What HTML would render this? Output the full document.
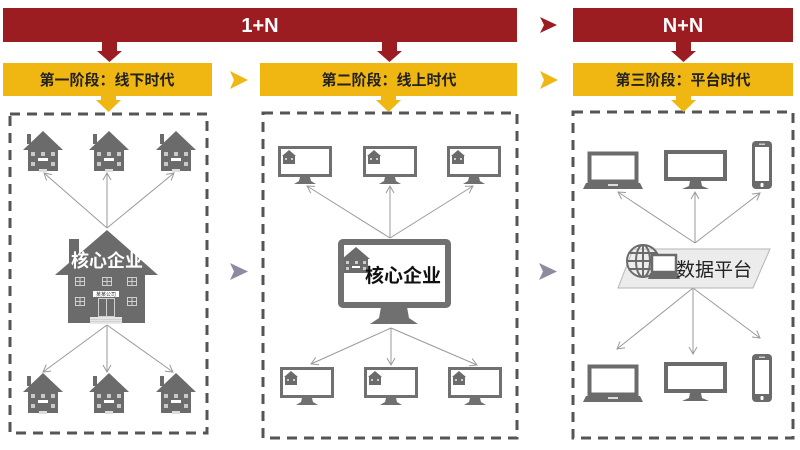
<!DOCTYPE html>
<html><head><meta charset="utf-8"><style>
html,body{margin:0;padding:0;background:#fff;}
svg{display:block;}
text{font-family:"Liberation Sans","Noto Sans CJK SC",sans-serif;}
</style></head><body>
<svg width="800" height="450" viewBox="0 0 800 450" xmlns="http://www.w3.org/2000/svg">
<defs>
  <marker id="ah" markerWidth="10" markerHeight="10" refX="8" refY="5" orient="auto" markerUnits="userSpaceOnUse">
    <polyline points="1,1 8,5 1,9" fill="none" stroke="#9a9a9a" stroke-width="1"/>
  </marker>
  <g id="house">
    <polygon points="20,0 40,19 0,19" fill="#6b6b6b"/>
    <rect x="4" y="3" width="4" height="10" fill="#6b6b6b"/>
    <rect x="5" y="18" width="30" height="22" fill="#6b6b6b"/>
    <g fill="#c9c9c9">
      <rect x="8" y="21" width="4" height="4"/><rect x="18" y="21" width="4" height="4"/><rect x="28" y="21" width="4" height="4"/>
      <rect x="8" y="31" width="4" height="4"/><rect x="28" y="31" width="4" height="4"/>
    </g>
    <rect x="15" y="27" width="10" height="3" fill="#fff"/>
    <rect x="16" y="38" width="8" height="3" fill="#ddd"/>
  </g>
  <g id="minihouse">
    <polygon points="7,0 14,6 0,6" fill="#6b6b6b"/>
    <rect x="1" y="6" width="12" height="8" fill="#6b6b6b"/>
    <rect x="3" y="8" width="2" height="2" fill="#ccc"/><rect x="9" y="8" width="2" height="2" fill="#ccc"/>
  </g>
  <g id="mon">
    <rect x="1.5" y="1.5" width="51" height="28" fill="#fff" stroke="#707070" stroke-width="3"/>
    <polygon points="22,31 32,31 33,35 38,38 16,38 21,35" fill="#707070"/>
    <use href="#minihouse" x="4" y="4"/>
  </g>
  <g id="laptop">
    <rect x="6.5" y="1.5" width="47" height="28" fill="#fff" stroke="#6b6b6b" stroke-width="4"/>
    <polygon points="3,31 57,31 60,37 0,37" fill="#6b6b6b"/>
    <rect x="25" y="32" width="10" height="2" fill="#ddd"/>
  </g>
  <g id="pc">
    <rect x="2" y="2" width="59" height="27" fill="#fff" stroke="#6b6b6b" stroke-width="4"/>
    <polygon points="26,31 37,31 38,36 45,39 18,39 25,36" fill="#6b6b6b"/>
  </g>
  <g id="phone">
    <rect x="0" y="0" width="20" height="48" rx="4" fill="#6b6b6b"/>
    <rect x="3" y="6" width="14" height="34" fill="#fff"/>
    <rect x="7" y="2.5" width="6" height="1.5" fill="#ccc"/>
    <rect x="8.5" y="42" width="3" height="4" rx="1" fill="#fff"/>
  </g>
</defs>

<!-- red top bars -->
<rect x="3" y="8" width="514" height="34" fill="#9b1d22"/>
<text x="260" y="32" font-size="20" font-weight="bold" fill="#fff" text-anchor="middle">1+N</text>
<polygon points="540,17 557,25 540,33 544,25" fill="#9b1d22"/>
<rect x="573" y="8" width="220" height="34" fill="#9b1d22"/>
<text x="683" y="32" font-size="20" font-weight="bold" fill="#fff" text-anchor="middle">N+N</text>

<!-- red down arrows -->
<polygon points="102,42 117,42 117,51 122,51 109.5,62 97,51 102,51" fill="#9b1d22"/>
<polygon points="382,42 397,42 397,51 402,51 389.5,62 377,51 382,51" fill="#9b1d22"/>
<polygon points="676,42 691,42 691,51 696,51 683.5,62 671,51 676,51" fill="#9b1d22"/>

<!-- yellow bars -->
<rect x="3" y="63" width="209" height="33" fill="#f0b612"/>
<text x="107" y="85" font-size="15" font-weight="bold" fill="#222" text-anchor="middle">第一阶段：线下时代</text>
<polygon points="230,71 248,80 230,89 234,80" fill="#f0b612"/>
<rect x="260" y="63" width="257" height="33" fill="#f0b612"/>
<text x="389" y="85" font-size="15" font-weight="bold" fill="#222" text-anchor="middle">第二阶段：线上时代</text>
<polygon points="540,71 558,80 540,89 544,80" fill="#f0b612"/>
<rect x="573" y="63" width="220" height="33" fill="#f0b612"/>
<text x="683" y="85" font-size="15" font-weight="bold" fill="#222" text-anchor="middle">第三阶段：平台时代</text>

<!-- dashed boxes -->
<g fill="none" stroke="#555" stroke-width="3" stroke-dasharray="10,7">
  <rect x="10" y="114" width="197" height="319"/>
  <rect x="263" y="113" width="254" height="325"/>
  <rect x="573" y="112" width="220" height="326"/>
</g>

<!-- yellow down arrows -->
<polygon points="101,96 116,96 116,100 121,100 108.5,112 96,100 101,100" fill="#f0b612"/>
<polygon points="381,96 396,96 396,100 401,100 388.5,112 376,100 381,100" fill="#f0b612"/>
<polygon points="676,96 691,96 691,100 696,100 683.5,112 671,100 676,100" fill="#f0b612"/>

<!-- gray between arrows -->
<polygon points="230,263 248,271.5 230,280 234,271.5" fill="#8c8ca0"/>
<polygon points="539,263 557,271.5 539,280 543,271.5" fill="#8c8ca0"/>

<!-- ===== Box 1 ===== -->
<use href="#house" x="23" y="131"/>
<use href="#house" x="89" y="131"/>
<use href="#house" x="156" y="131"/>
<g stroke="#9a9a9a" stroke-width="1" fill="none" marker-end="url(#ah)">
  <line x1="107" y1="228" x2="44" y2="173"/>
  <line x1="107" y1="228" x2="107" y2="173"/>
  <line x1="107" y1="228" x2="174" y2="173"/>
  <line x1="107" y1="325" x2="43" y2="372"/>
  <line x1="107" y1="325" x2="107" y2="372"/>
  <line x1="107" y1="325" x2="173" y2="372"/>
</g>
<!-- big house -->
<polygon points="107,230 158,275 55,275" fill="#6b6b6b"/>
<rect x="69" y="239" width="10" height="30" fill="#6b6b6b"/>
<rect x="68" y="274" width="77" height="49" fill="#6b6b6b"/>
<g fill="none" stroke="#d0d0d0" stroke-width="1">
  <rect x="75.5" y="277.5" width="9" height="8"/><rect x="102.5" y="277.5" width="9" height="8"/><rect x="127.5" y="277.5" width="9" height="8"/>
  <rect x="75.5" y="297.5" width="9" height="8"/><rect x="127.5" y="297.5" width="9" height="8"/>
  <line x1="80" y1="277" x2="80" y2="286"/><line x1="107" y1="277" x2="107" y2="286"/><line x1="132" y1="277" x2="132" y2="286"/>
  <line x1="75" y1="281.5" x2="85" y2="281.5"/><line x1="102" y1="281.5" x2="112" y2="281.5"/><line x1="127" y1="281.5" x2="137" y2="281.5"/>
  <line x1="80" y1="297" x2="80" y2="306"/><line x1="132" y1="297" x2="132" y2="306"/>
  <line x1="75" y1="301.5" x2="85" y2="301.5"/><line x1="127" y1="301.5" x2="137" y2="301.5"/>
  <rect x="98.5" y="298.5" width="16" height="18"/>
  <line x1="106.5" y1="298" x2="106.5" y2="317"/>
</g>
<rect x="93" y="291" width="26" height="6" fill="#fff"/>
<text x="106" y="296" font-size="5" fill="#444" text-anchor="middle">某某公司</text>
<rect x="90" y="317" width="32" height="7" fill="#e6e6e6"/>
<g stroke="#bbb" stroke-width="0.6"><line x1="90" y1="319.5" x2="122" y2="319.5"/><line x1="90" y1="321.5" x2="122" y2="321.5"/></g>
<text x="107" y="267" font-size="18" font-weight="bold" fill="#fff" text-anchor="middle">核心企业</text>
<use href="#house" x="23" y="373"/>
<use href="#house" x="89" y="373"/>
<use href="#house" x="156" y="373"/>

<!-- ===== Box 2 ===== -->
<use href="#mon" x="278" y="146"/>
<use href="#mon" x="363" y="146"/>
<use href="#mon" x="447" y="146"/>
<g stroke="#9a9a9a" stroke-width="1" fill="none" marker-end="url(#ah)">
  <line x1="390" y1="238" x2="307" y2="186"/>
  <line x1="390" y1="238" x2="390" y2="186"/>
  <line x1="390" y1="238" x2="473" y2="186"/>
  <line x1="391" y1="328" x2="311" y2="364"/>
  <line x1="391" y1="328" x2="391" y2="365"/>
  <line x1="391" y1="328" x2="477" y2="365"/>
</g>
<rect x="341" y="242" width="107" height="63" rx="2" fill="#fff" stroke="#707070" stroke-width="6"/>
<polygon points="381,307 407,307 409,318 418,324 370,324 379,318" fill="#707070"/>
<g>
  <polygon points="356,247 370,259 342,259" fill="#6b6b6b"/>
  <rect x="344" y="258" width="24" height="15" fill="#6b6b6b"/>
  <g fill="#ccc"><rect x="346" y="261" width="3" height="3"/><rect x="355" y="261" width="3" height="3"/><rect x="363" y="261" width="3" height="3"/><rect x="346" y="267" width="3" height="3"/><rect x="363" y="267" width="3" height="3"/></g>
  <rect x="352" y="266" width="8" height="2" fill="#fff"/>
</g>
<text x="403" y="282" font-size="19" font-weight="bold" fill="#111" text-anchor="middle">核心企业</text>
<use href="#mon" x="280" y="367"/>
<use href="#mon" x="364" y="367"/>
<use href="#mon" x="448" y="367"/>

<!-- ===== Box 3 ===== -->
<use href="#laptop" x="583" y="152"/>
<use href="#pc" x="664" y="150"/>
<use href="#phone" x="752" y="141"/>
<g stroke="#9a9a9a" stroke-width="1" fill="none" marker-end="url(#ah)">
  <line x1="695" y1="243" x2="618" y2="192"/>
  <line x1="695" y1="243" x2="695" y2="192"/>
  <line x1="695" y1="243" x2="760" y2="193"/>
  <line x1="693" y1="288" x2="617" y2="349"/>
  <line x1="693" y1="288" x2="693" y2="354"/>
  <line x1="693" y1="288" x2="760" y2="338"/>
</g>
<polygon points="633,249 770,249 753,288 618,288" fill="#ececec" stroke="#b5b5b5" stroke-width="1"/>
<g fill="none" stroke="#6b6b6b" stroke-width="2">
  <circle cx="643" cy="261" r="16"/>
  <ellipse cx="643" cy="261" rx="7" ry="16"/>
  <line x1="643" y1="245" x2="643" y2="277"/>
  <line x1="627" y1="261" x2="659" y2="261"/>
  <line x1="629" y1="253" x2="657" y2="253"/>
  <line x1="629" y1="269" x2="657" y2="269"/>
</g>
<rect x="652" y="255" width="24" height="17" fill="#fff" stroke="#6b6b6b" stroke-width="2.5"/>
<polygon points="650,273 678,273 680,279 648,279" fill="#6b6b6b"/>
<text x="714" y="276" font-size="19" fill="#222" text-anchor="middle">数据平台</text>
<use href="#laptop" x="583" y="365"/>
<use href="#pc" x="664" y="362"/>
<use href="#phone" x="752" y="354"/>
</svg>
</body></html>
